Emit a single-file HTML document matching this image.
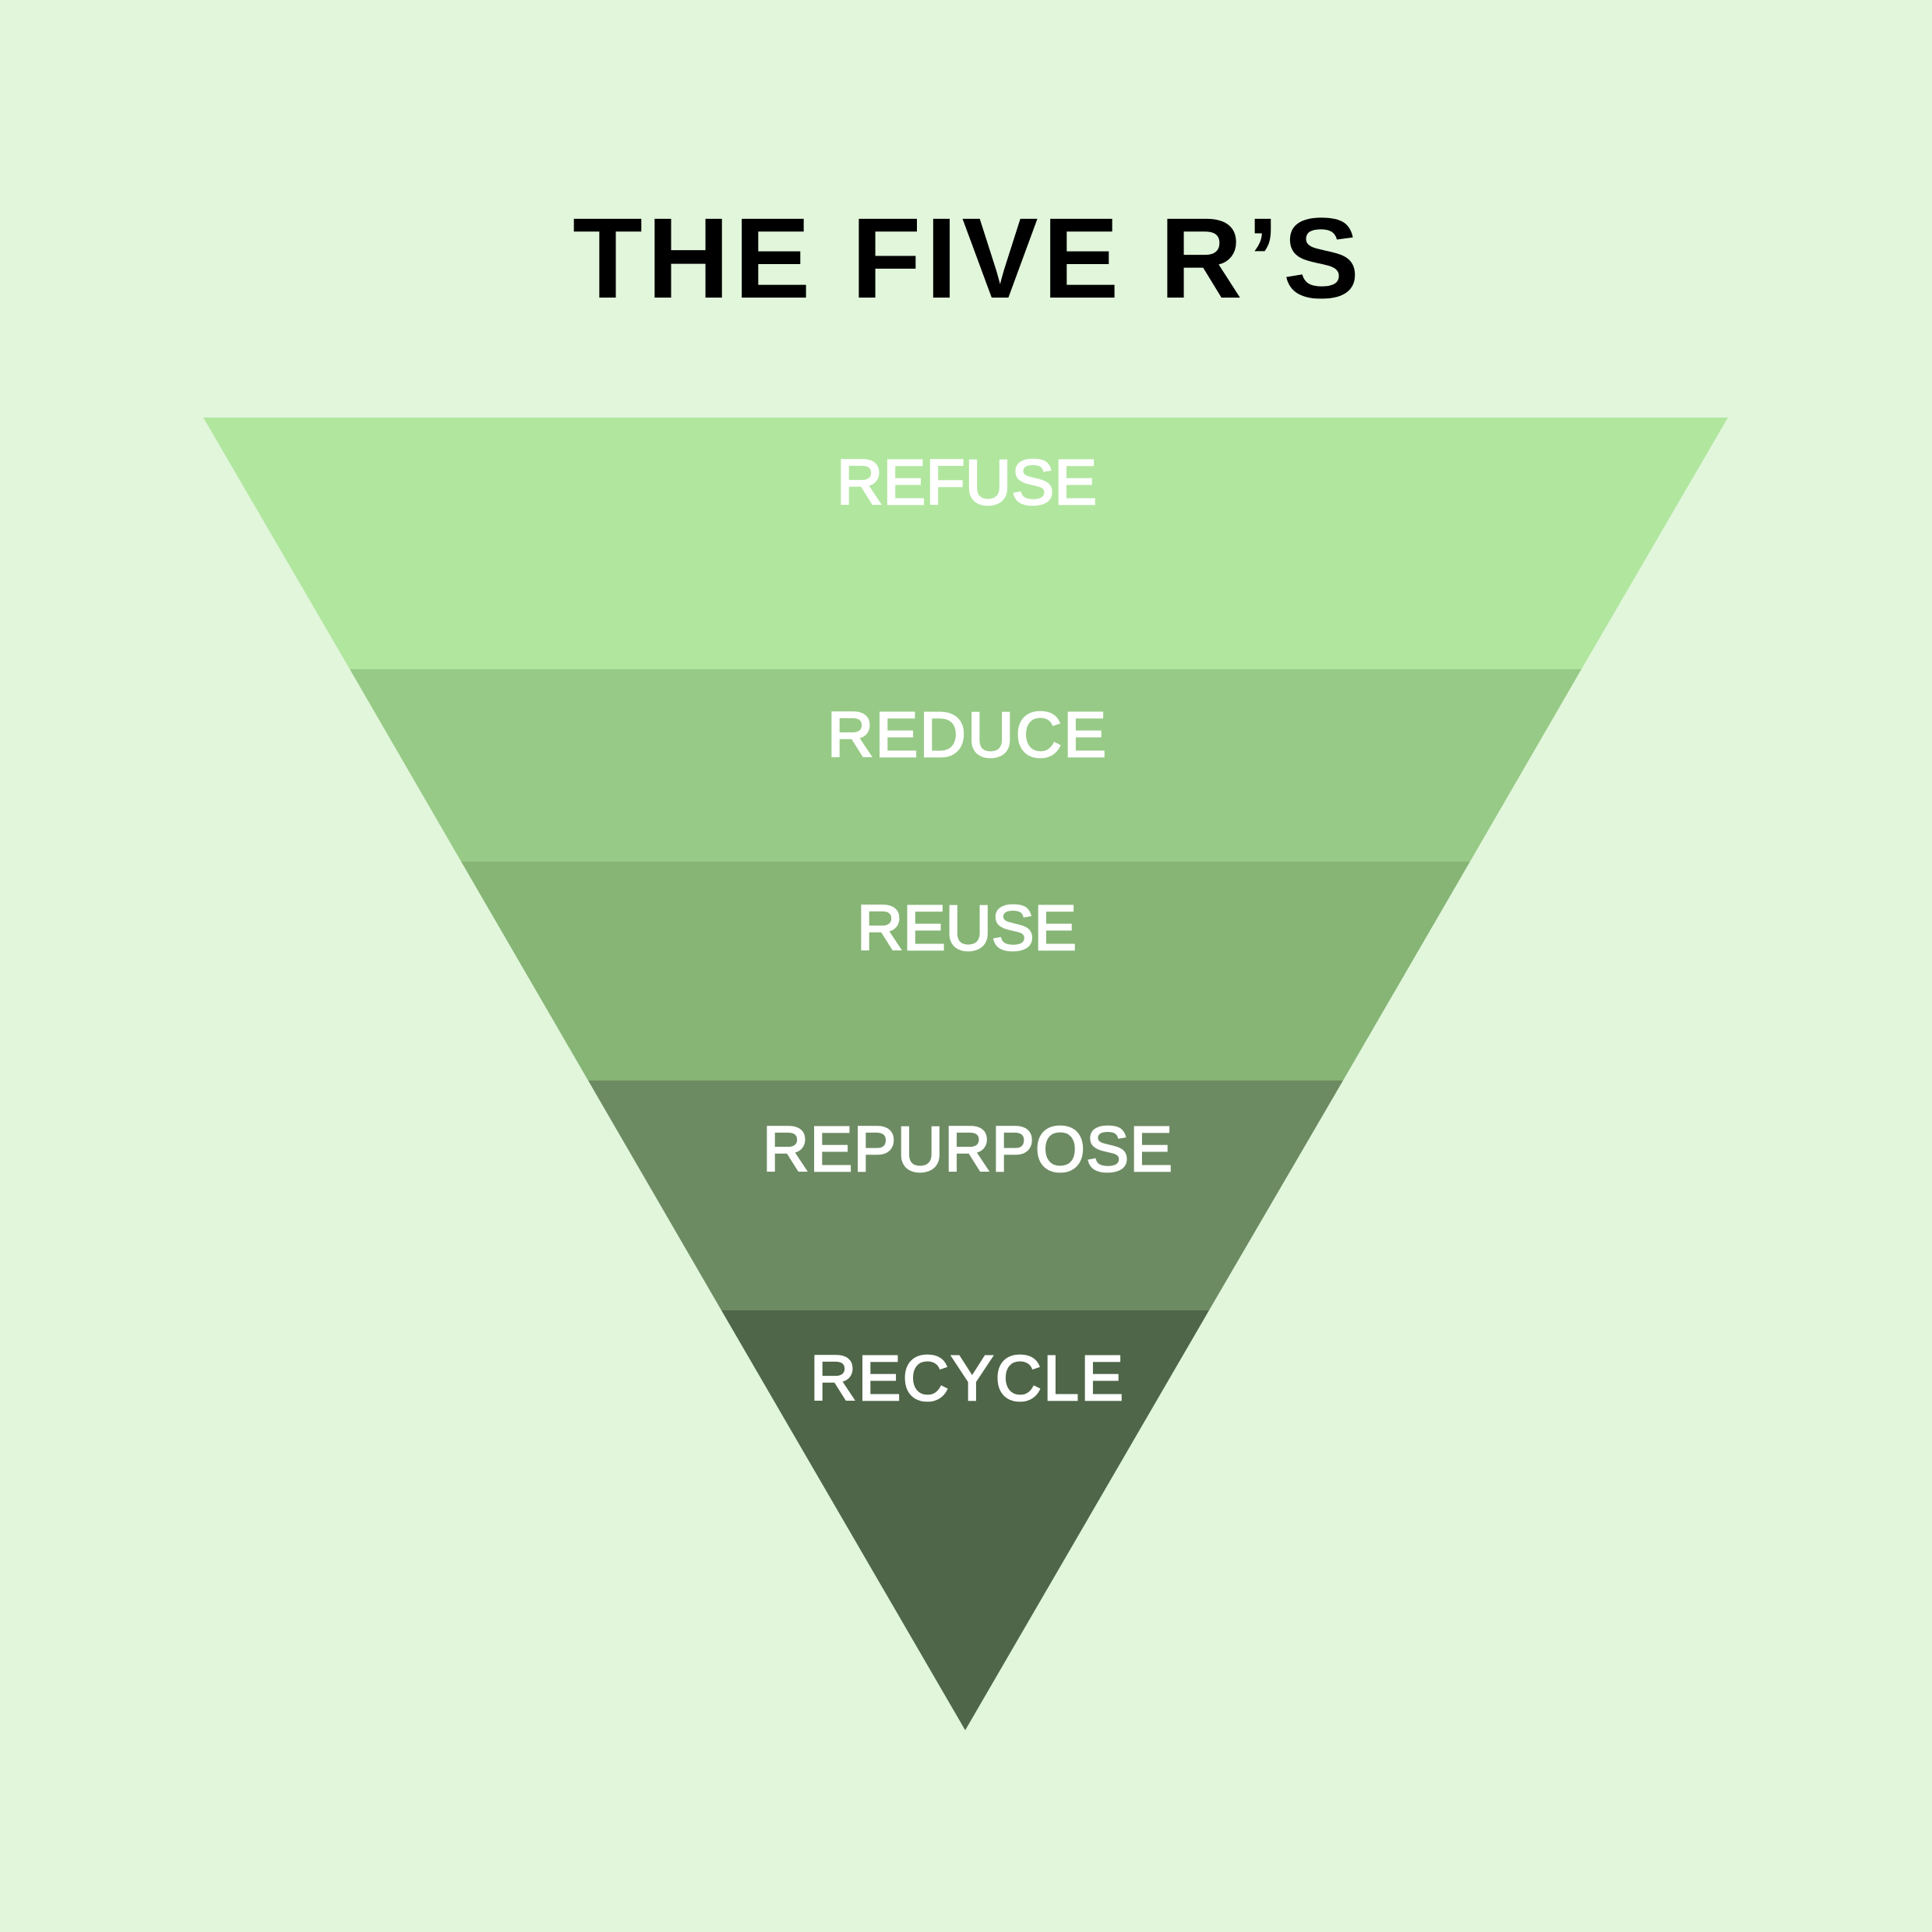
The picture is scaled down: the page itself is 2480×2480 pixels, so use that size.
<!DOCTYPE html>
<html>
<head>
<meta charset="utf-8">
<style>
  html, body { margin: 0; padding: 0; background: #e1f6db; }
  svg { display: block; }
</style>
</head>
<body>
<svg width="2480" height="2480" viewBox="0 0 2480 2480" xmlns="http://www.w3.org/2000/svg">
  <rect x="0" y="0" width="2480" height="2480" fill="#e1f6db"/>

  <text x="1240" y="382" text-anchor="middle" font-family="'Liberation Sans', sans-serif" font-weight="bold" font-size="147" fill="#000000" textLength="1010" lengthAdjust="spacing">THE FIVE R’S</text>

  <!-- bands -->
  <polygon points="261,536 2218,536 2030,859 449,859" fill="#b1e69f"/>
  <polygon points="449,859 2030,859 1887,1106 592,1106" fill="#97ca86"/>
  <polygon points="592,1106 1887,1106 1724,1387 755,1387" fill="#86b575"/>
  <polygon points="755,1387 1724,1387 1552,1682 926,1682" fill="#6d8b63"/>
  <polygon points="926,1682 1552,1682 1239,2221" fill="#4f6649"/>

  <g font-family="'Liberation Sans', sans-serif" font-weight="normal" font-size="82" fill="#ffffff" stroke="#ffffff" stroke-width="2.6" stroke-linejoin="miter" text-anchor="middle">
    <text x="1241" y="647" textLength="334" lengthAdjust="spacing">REFUSE</text>
    <text x="1241" y="971" textLength="358" lengthAdjust="spacing">REDUCE</text>
    <text x="1241" y="1219" textLength="282" lengthAdjust="spacing">REUSE</text>
    <text x="1242" y="1503" textLength="526" lengthAdjust="spacing">REPURPOSE</text>
    <text x="1241" y="1797" textLength="402" lengthAdjust="spacing">RECYCLE</text>
  </g>
</svg>
</body>
</html>
